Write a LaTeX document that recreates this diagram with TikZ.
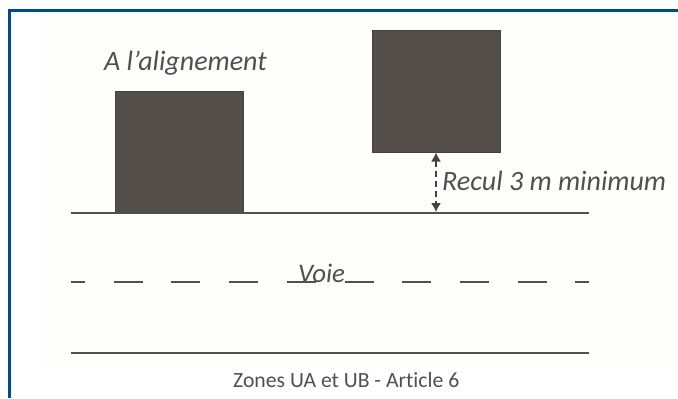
\documentclass[tikz,border=0pt]{standalone}
\usepackage{fontspec}
\setmainfont[Ligatures=NoCommon]{Carlito}
\usetikzlibrary{arrows.meta}
\definecolor{frameblue}{HTML}{004A8F}
\definecolor{housefill}{HTML}{544E4B}
\definecolor{houseedge}{HTML}{45413F}
\definecolor{linegray}{HTML}{505050}
\definecolor{textgray}{HTML}{505050}
\definecolor{paper}{HTML}{FEFEFD}
\tikzset{
  x=1bp,y=-1bp,
  house/.style={draw=houseedge,line width=1bp,fill=housefill,minimum width=128bp,minimum height=122bp,inner sep=0pt,outer sep=0pt},
  road/.style={draw=linegray,line width=2bp},
  axisdash/.style={road,dash pattern=on 29bp off 28.7bp,dash phase=15bp},
  label/.style={text=textgray,inner sep=0pt,anchor=base west,font=\fontsize{28bp}{30bp}\selectfont\itshape},
  caption/.style={text=textgray,inner sep=0pt,anchor=base west,font=\fontsize{21.7bp}{24bp}\selectfont},
  frame/.style={draw=frameblue,line width=3bp},
  measure/.style={draw=houseedge,line width=1.5bp,dash pattern=on 6bp off 4bp,{Latex[length=9bp,width=10bp]}-{Latex[length=9bp,width=10bp]}}
}
\begin{document}
\begin{tikzpicture}
\useasboundingbox (0,0) rectangle (678,398);
\fill[white] (0,0) rectangle (678,398);
\fill[paper] (40,14) rectangle (678,368);
\coordinate (fa) at (9.5,398);
\coordinate (fb) at (9.5,10.5);
\coordinate (fc) at (678,10.5);
\draw[frame] (fa) -- (fb) -- (fc);
\coordinate (g1) at (71,212.5);
\coordinate (g2) at (589,212.5);
\coordinate (d1) at (71,282);
\coordinate (d2) at (589,282);
\coordinate (b1) at (71,353);
\coordinate (b2) at (589,353);
\node[house] (h1) at (179.5,152) {};
\node[house] (h2) at (436,91.5) {};
\draw[road] (g1) -- (g2);
\draw[axisdash] (d1) -- (d2);
\draw[road] (b1) -- (b2);
\coordinate (gm) at (436,212);
\draw[measure] (h2.south) -- (gm);
\node[label] (t1) at (104,70) {A l’alignement};
\node[label] (t2) at (442,190) {Recul 3 m minimum};
\node[label,font=\fontsize{26.8bp}{28bp}\selectfont\itshape] (t3) at (298,282) {Voie};
\node[caption] (t4) at (233,387) {Zones UA et UB - Article 6};
\end{tikzpicture}
\end{document}
